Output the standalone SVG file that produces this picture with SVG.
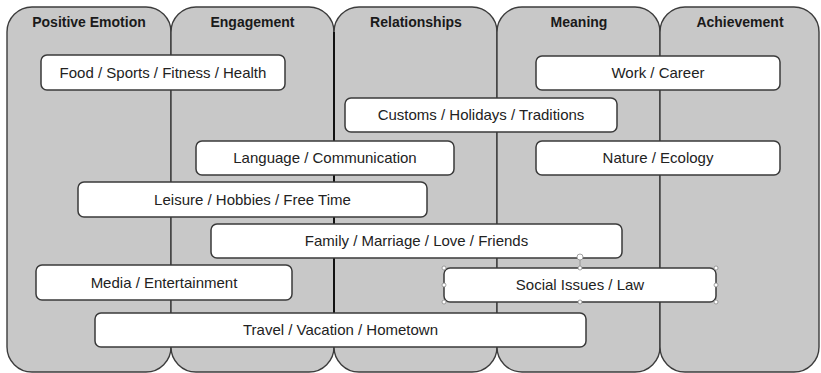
<svg xmlns="http://www.w3.org/2000/svg" width="821" height="373" viewBox="0 0 821 373">
<style>
.col{fill:#c8c8c8;stroke:#3c3c3c;stroke-width:1.4}
.hd{font-family:"Liberation Sans",Arial,sans-serif;font-weight:bold;font-size:14px;fill:#1a1a1a;text-anchor:middle}
.box{fill:#ffffff;stroke:#3a3a3a;stroke-width:1.5}
.lb{font-family:"Liberation Sans",Arial,sans-serif;font-size:15px;fill:#222;text-anchor:middle}
.hdl{fill:#ffffff;stroke:#8a8a8a;stroke-width:0.8}
</style>
<rect width="821" height="373" fill="#ffffff"/>
<g id="columns">
<g id="col-positive-emotion"><rect class="col" x="7" y="7" width="164" height="365" rx="25" ry="25"/><text class="hd" x="89" y="27">Positive Emotion</text></g>
<g id="col-engagement"><rect class="col" x="171" y="7" width="163" height="365" rx="25" ry="25"/><text class="hd" x="252.5" y="27">Engagement</text></g>
<g id="col-relationships"><rect class="col" x="334" y="7" width="163" height="365" rx="25" ry="25"/><text class="hd" x="416" y="27">Relationships</text></g>
<g id="col-meaning"><rect class="col" x="497" y="7" width="163" height="365" rx="25" ry="25"/><text class="hd" x="579" y="27">Meaning</text></g>
<g id="col-achievement"><rect class="col" x="660" y="7" width="159" height="365" rx="25" ry="25"/><text class="hd" x="740" y="27">Achievement</text></g>
<line x1="334" y1="32" x2="334" y2="347" stroke="#111" stroke-width="2"/>
</g>
<g id="connectors"></g>
<g id="node-food"><rect class="box" x="41" y="55" width="244" height="35" rx="6"/><text class="lb" x="163" y="78">Food / Sports / Fitness / Health</text></g>
<g id="node-work"><rect class="box" x="536" y="56" width="244" height="34" rx="6"/><text class="lb" x="658" y="78">Work / Career</text></g>
<g id="node-customs"><rect class="box" x="345" y="98" width="272" height="34" rx="6"/><text class="lb" x="481" y="120">Customs / Holidays / Traditions</text></g>
<g id="node-language"><rect class="box" x="196" y="141" width="258" height="34" rx="6"/><text class="lb" x="325" y="163">Language / Communication</text></g>
<g id="node-nature"><rect class="box" x="536" y="141" width="244" height="34" rx="6"/><text class="lb" x="658" y="163">Nature / Ecology</text></g>
<g id="node-leisure"><rect class="box" x="78" y="182" width="349" height="35" rx="6"/><text class="lb" x="252.5" y="205">Leisure / Hobbies / Free Time</text></g>
<g id="node-family"><rect class="box" x="211" y="224" width="411" height="34" rx="6"/><text class="lb" x="416.5" y="246">Family / Marriage / Love / Friends</text></g>
<g id="node-media"><rect class="box" x="36" y="265" width="256" height="35" rx="6"/><text class="lb" x="164" y="288">Media / Entertainment</text></g>
<g id="node-social"><rect class="box" x="444" y="268" width="272" height="34" rx="6"/><text class="lb" x="580" y="290">Social Issues / Law</text>
<line x1="580" y1="259" x2="580" y2="268" stroke="#8a8a8a" stroke-width="0.8"/>
<circle class="hdl" cx="580" cy="257" r="3"/>
<circle class="hdl" cx="444" cy="268" r="2"/><circle class="hdl" cx="580" cy="268" r="2"/><circle class="hdl" cx="716" cy="268" r="2"/>
<circle class="hdl" cx="444" cy="285" r="2"/><circle class="hdl" cx="716" cy="285" r="2"/>
<circle class="hdl" cx="444" cy="302" r="2"/><circle class="hdl" cx="580" cy="302" r="2"/><circle class="hdl" cx="716" cy="302" r="2"/>
</g>
<g id="node-travel"><rect class="box" x="95" y="313" width="491" height="34" rx="6"/><text class="lb" x="340.5" y="335">Travel / Vacation / Hometown</text></g>
</svg>
